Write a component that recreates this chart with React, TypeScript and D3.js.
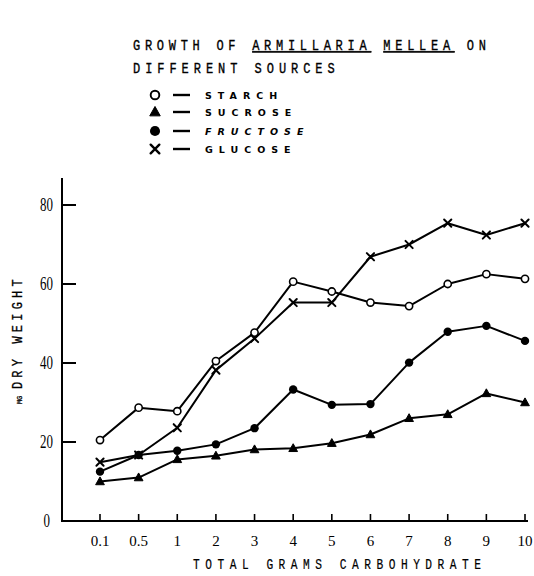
import React from "react";
import * as d3 from "d3";

const categories = ["0.1", "0.5", "1", "2", "3", "4", "5", "6", "7", "8", "9", "10"];
const starch = [20.5, 28.7, 27.8, 40.5, 47.7, 60.6, 58.1, 55.3, 54.4, 60.0, 62.5, 61.3];
const sucrose = [10.0, 11.0, 15.6, 16.5, 18.1, 18.4, 19.7, 21.9, 26.0, 27.0, 32.3, 30.0];
const fructose = [12.5, 16.7, 17.8, 19.4, 23.5, 33.3, 29.4, 29.6, 40.1, 47.9, 49.4, 45.6];
const glucose = [14.9, 16.7, 23.6, 38.2, 46.2, 55.3, 55.3, 66.9, 70.0, 75.4, 72.4, 75.4];
const yTicks = [0, 20, 40, 60, 80];
const legendLabels = ["STARCH", "SUCROSE", "FRUCTOSE", "GLUCOSE"];

type Kind = "open" | "tri" | "dot" | "x";
const seriesList: { name: string; values: number[]; kind: Kind }[] = [
  { name: "STARCH", values: starch, kind: "open" },
  { name: "SUCROSE", values: sucrose, kind: "tri" },
  { name: "FRUCTOSE", values: fructose, kind: "dot" },
  { name: "GLUCOSE", values: glucose, kind: "x" },
];

function Marker({ kind, x, y, s = 1 }: { kind: Kind; x: number; y: number; s?: number }) {
  if (kind === "open")
    return <circle cx={x} cy={y} r={3.6 * s} fill="#fff" stroke="#000" strokeWidth={1.6 * s} />;
  if (kind === "dot") return <circle cx={x} cy={y} r={4.2 * s} fill="#000" />;
  if (kind === "tri") {
    const r = 4.6 * s;
    return (
      <path
        d={`M${x},${y - r} L${x + r * 0.95},${y + r * 0.7} L${x - r * 0.95},${y + r * 0.7} Z`}
        fill="#000"
        stroke="#000"
        strokeWidth={1}
        strokeLinejoin="round"
      />
    );
  }
  const r = 3.6 * s;
  return (
    <path
      d={`M${x - r},${y - r} L${x + r},${y + r} M${x + r},${y - r} L${x - r},${y + r}`}
      stroke="#000"
      strokeWidth={2 * s}
      strokeLinecap="round"
    />
  );
}

export default function App() {
  const x = d3.scalePoint<string>().domain(categories).range([100, 525]);
  const y = d3.scaleLinear().domain([0, 80]).range([521, 205]);
  const line = d3
    .line<number>()
    .x((_, i) => x(categories[i]) as number)
    .y((d) => y(d));

  const mono = "'Liberation Mono', 'DejaVu Sans Mono', monospace";
  const sans = "'DejaVu Sans', sans-serif";
  const serif = "'Liberation Serif', serif";
  const sx = (cx: number, cy: number, k: number) =>
    `translate(${cx},${cy}) scale(${k},1) translate(${-cx},${-cy})`;

  return (
    <svg
      width={534}
      height={576}
      style={{ position: "absolute", left: 0, top: 0, background: "#fff" }}
    >
      <rect width={534} height={576} fill="#fff" />
      {/* Title */}
      <g transform={sx(133, 50, 0.8)}>
        <text x={133} y={50} fontFamily={mono} fontSize={15} letterSpacing={5.9} fill="#000" stroke="#000" strokeWidth={0.35}>
          <tspan>GROWTH OF </tspan>
          <tspan textDecoration="underline">ARMILLARIA</tspan>
          <tspan> </tspan>
          <tspan textDecoration="underline">MELLEA</tspan>
          <tspan> ON</tspan>
        </text>
        <text x={133} y={73} fontFamily={mono} fontSize={15} letterSpacing={6.2} fill="#000" stroke="#000" strokeWidth={0.35}>
          DIFFERENT SOURCES
        </text>
      </g>

      {/* Legend */}
      {seriesList.map((s, i) => {
        const ly = [95, 112, 131, 149][i];
        return (
          <g key={s.name}>
            <Marker kind={s.kind} x={155} y={ly} s={1.2} />
            <line x1={173} x2={190} y1={ly} y2={ly} stroke="#000" strokeWidth={2.4} />
            <text
              x={205}
              y={ly + 3.5}
              fontFamily={sans}
              fontSize={9.5}
              fontWeight="bold"
              fontStyle={s.name === "FRUCTOSE" ? "italic" : "normal"}
              letterSpacing={6}
              fill="#000"
            >
              {legendLabels[i]}
            </text>
          </g>
        );
      })}

      {/* Axes */}
      <line x1={62} x2={62} y1={178} y2={521} stroke="#000" strokeWidth={2} />
      <line x1={61} x2={528} y1={521} y2={521} stroke="#000" strokeWidth={2} />
      {yTicks.map((t) => {
        const tx = t === 0 ? 50 : 53;
        return (
          <g key={t}>
            {t > 0 && <line x1={62} x2={76} y1={y(t)} y2={y(t)} stroke="#000" strokeWidth={2} />}
            <g transform={sx(tx, y(t), 0.72)}>
              <text x={tx} y={y(t) + 6.5} textAnchor="end" fontFamily={serif} fontSize={18} fill="#000">
                {t}
              </text>
            </g>
          </g>
        );
      })}
      {categories.map((c) => (
        <g key={c}>
          <line x1={x(c)} x2={x(c)} y1={521} y2={514} stroke="#000" strokeWidth={1.6} />
          <text x={x(c)} y={546} textAnchor="middle" fontFamily={serif} fontSize={15} fill="#000">
            {c}
          </text>
        </g>
      ))}

      {/* Axis titles */}
      <g transform={sx(193, 569, 0.8)}>
        <text x={193} y={569} fontFamily={mono} fontSize={14} letterSpacing={6.9} fill="#000" stroke="#000" strokeWidth={0.2}>
          TOTAL GRAMS CARBOHYDRATE
        </text>
      </g>
      <g transform="translate(22,404) rotate(-90)">
        <g transform="scale(0.85,1)">
          <text x={0} y={0} fontFamily={mono} fontSize={14} letterSpacing={5} fill="#000" stroke="#000" strokeWidth={0.3}>
            <tspan fontSize={8} letterSpacing={0}>MG</tspan>
            <tspan dx={8}>DRY WEIGHT</tspan>
          </text>
        </g>
      </g>

      {/* Series */}
      {seriesList.map((s) => (
        <g key={s.name}>
          <path d={line(s.values) || ""} fill="none" stroke="#000" strokeWidth={2} strokeLinejoin="round" />
          {s.values.map((v, i) => (
            <Marker key={i} kind={s.kind} x={x(categories[i]) as number} y={y(v)} />
          ))}
        </g>
      ))}
    </svg>
  );
}
